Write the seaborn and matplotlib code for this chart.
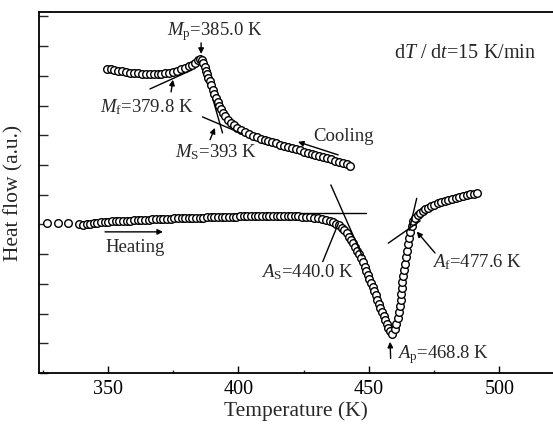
import matplotlib
matplotlib.use("Agg")
import matplotlib.pyplot as plt
import seaborn as sns
import pandas as pd

# ---------------- data ----------------
cool_T = [349.7, 351.0, 352.5, 354.0, 355.5, 357.0, 358.5, 360.0, 361.5, 363.0,
          364.5, 366.0, 367.5, 369.0, 370.5, 372.0, 373.5, 375.0, 376.5, 378.0,
          379.5, 381.0, 382.3, 383.5, 384.5, 385.3, 386.0, 386.5, 387.0, 387.5,
          388.0, 388.5, 389.0, 389.6, 390.2, 390.8, 391.4, 392.0, 392.7, 393.4,
          394.2, 395.0, 396.0, 397.0, 398.2, 399.5, 401.0, 402.5, 404.0, 405.5,
          407.0, 408.5, 410.0, 411.5, 413.0, 414.5, 416.0, 417.5, 419.0, 420.5,
          422.0, 423.5, 425.0, 426.5, 428.0, 429.5, 431.0, 432.5, 434.0, 435.5,
          437.0, 438.5, 440.0, 441.5, 442.8]
cool_H = [10.24, 10.22, 10.19, 10.17, 10.15, 10.13, 10.11, 10.10, 10.09, 10.08,
          10.07, 10.07, 10.07, 10.07, 10.08, 10.09, 10.11, 10.14, 10.18, 10.22,
          10.27, 10.32, 10.38, 10.45, 10.52, 10.57, 10.52, 10.42, 10.30, 10.18,
          10.06, 9.94, 9.82, 9.68, 9.54, 9.40, 9.26, 9.13, 9.00, 8.88,
          8.76, 8.64, 8.53, 8.43, 8.34, 8.25, 8.17, 8.10, 8.04, 7.99,
          7.94, 7.89, 7.85, 7.81, 7.77, 7.73, 7.69, 7.65, 7.61, 7.57,
          7.53, 7.49, 7.45, 7.41, 7.38, 7.35, 7.31, 7.27, 7.23, 7.19,
          7.15, 7.11, 7.07, 7.02, 6.97]

heat_T = [326.7, 330.9, 334.7, 338.8, 340.3, 341.8, 343.2, 344.6, 346.0, 347.4,
          348.8, 350.2, 351.6, 353.0, 354.4, 355.8, 357.2, 358.6, 360.0, 361.4,
          362.8, 364.2, 365.6, 367.0, 368.4, 369.8, 371.2, 372.6, 374.0, 375.4,
          376.8, 378.2, 379.6, 381.0, 382.4, 383.8, 385.2, 386.6, 388.0, 389.4,
          390.8, 392.2, 393.6, 395.0, 396.4, 397.8, 399.2, 400.6, 402.0, 403.4,
          404.8, 406.2, 407.6, 409.0, 410.4, 411.8, 413.2, 414.6, 416.0, 417.4,
          418.8, 420.2, 421.6, 423.0, 424.5, 426.0, 427.5, 429.0, 430.5, 432.0,
          433.5, 435.0, 436.3, 437.5, 438.5, 439.6, 440.6, 441.5, 442.3, 443.1,
          443.9, 444.7, 445.5, 446.3, 447.0, 447.7, 448.4, 449.0, 449.6, 450.2,
          450.8, 451.4, 452.0, 452.6, 453.2, 453.8, 454.4, 455.0, 455.6, 456.2,
          456.8, 457.4, 458.0, 458.7, 459.8, 460.5, 461.0, 461.4, 461.8, 462.1,
          462.4, 462.6, 462.8, 463.1, 463.5, 463.9, 464.2, 464.5, 464.9, 465.3,
          465.8, 466.3, 467.0, 467.8, 468.7, 469.6, 470.6, 471.6, 472.7, 473.8,
          475.0, 476.3, 477.6, 479.0, 480.4, 481.8, 483.2, 484.6, 486.0, 487.4,
          488.8, 490.2, 491.4]
heat_H = [5.06, 5.06, 5.05, 5.01, 4.99, 5.01, 5.03, 5.04, 5.05, 5.07,
          5.08, 5.09, 5.10, 5.10, 5.11, 5.12, 5.12, 5.13, 5.14, 5.14,
          5.15, 5.16, 5.16, 5.17, 5.17, 5.18, 5.18, 5.19, 5.19, 5.20,
          5.20, 5.21, 5.21, 5.22, 5.22, 5.22, 5.23, 5.23, 5.24, 5.24,
          5.24, 5.25, 5.25, 5.25, 5.26, 5.26, 5.26, 5.27, 5.27, 5.27,
          5.28, 5.28, 5.28, 5.28, 5.29, 5.29, 5.29, 5.29, 5.29, 5.29,
          5.29, 5.28, 5.28, 5.27, 5.26, 5.25, 5.24, 5.23, 5.21, 5.19,
          5.16, 5.12, 5.08, 5.03, 4.97, 4.89, 4.80, 4.70, 4.59, 4.48,
          4.37, 4.25, 4.12, 3.99, 3.86, 3.72, 3.58, 3.44, 3.30, 3.16,
          3.02, 2.88, 2.75, 2.61, 2.47, 2.33, 2.20, 2.06, 1.92, 1.78,
          1.64, 1.50, 1.40, 1.31, 1.47, 1.65, 1.85, 2.05, 2.25, 2.45,
          2.65, 2.85, 3.05, 3.25, 3.45, 3.67, 3.89, 4.11, 4.33, 4.55,
          4.76, 4.95, 5.10, 5.22, 5.31, 5.39, 5.46, 5.52, 5.57, 5.62,
          5.66, 5.71, 5.75, 5.79, 5.83, 5.87, 5.90, 5.94, 5.97, 6.00,
          6.02, 6.04, 6.06]

x_major = [350, 400, 450, 500]
x_minor = [325, 375, 425, 475]
y_major = list(range(0, 13))

# tangent construction lines (T pairs, H pairs)
tangents = [
    ([366.1, 382.2], [9.56, 10.20]),   # Mf
    ([386.2, 401.5], [8.62, 8.05]),    # Ms (shallow)
    ([390.3, 393.9], [9.19, 8.08]),    # Ms (steep)
    ([423.6, 448.9], [5.38, 5.38]),    # As (baseline)
    ([435.4, 447.4], [6.33, 3.94]),    # As (steep)
    ([468.3, 465.4], [5.88, 4.80]),    # Af (steep)
    ([457.4, 469.6], [4.37, 5.12]),    # Af (other)
]
pointer_lines = [
    ([432.3, 438.3], [3.75, 5.04]),    # As pointer
]
arrows = [  # (tail, tip)
    ((374.2, 9.46), (374.9, 9.87)),    # Mf
    ((385.7, 11.11), (385.7, 10.74)),  # Mp
    ((389.1, 7.85), (391.0, 8.25)),    # Ms
    ((438.2, 7.34), (422.8, 7.78)),    # Cooling
    ((348.9, 4.75), (371.1, 4.75)),    # Heating
    ((475.3, 4.04), (468.3, 4.76)),    # Af
    ((458.3, 0.49), (458.1, 1.05)),    # Ap
]

# ---------------- style ----------------
sns.set_theme(style="ticks")
plt.rcParams['font.family'] = ['Liberation Serif', 'DejaVu Serif']
plt.rcParams['mathtext.fontset'] = 'custom'
plt.rcParams['mathtext.rm'] = 'Liberation Serif'
plt.rcParams['mathtext.it'] = 'Liberation Serif:italic'
plt.rcParams['mathtext.bf'] = 'Liberation Serif:bold'

fig = plt.figure(figsize=(5.53, 4.24), dpi=100)
ax = fig.add_axes([39 / 553, 51 / 424, 1 - 39 / 553, 361 / 424])

cool = pd.DataFrame({"T": cool_T, "H": cool_H})
heat = pd.DataFrame({"T": heat_T, "H": heat_H})

for d in (heat, cool):
    sns.scatterplot(data=d, x="T", y="H", ax=ax, marker="o", s=30,
                    facecolor="white", edgecolor="black", linewidth=1.0,
                    legend=False, zorder=3)

for xs, ys in tangents + pointer_lines:
    ax.plot(xs, ys, color="black", lw=1.0, zorder=4)

for tail, tip in arrows:
    ax.annotate("", xy=tip, xytext=tail,
                arrowprops=dict(arrowstyle="-|>", color="black", lw=1.0,
                                mutation_scale=8, shrinkA=0, shrinkB=0),
                zorder=5)

fs = 13.5
ax.text(391.0, 11.48, r"$M_{\mathrm{p}}$=385.0 K", fontsize=fs, ha="center", va="center")
ax.text(365.0, 8.96, r"$M_{\mathrm{f}}$=379.8 K", fontsize=fs, ha="center", va="center")
ax.text(391.4, 7.44, r"$M_{\mathrm{S}}$=393 K", fontsize=fs, ha="center", va="center")
ax.text(440.1, 7.95, "Cooling", fontsize=fs, ha="center", va="center")
ax.text(360.4, 4.21, "Heating", fontsize=fs, ha="center", va="center")
ax.text(426.3, 3.40, r"$A_{\mathrm{S}}$=440.0 K", fontsize=fs, ha="center", va="center")
ax.text(474.2, 3.74, r"$A_{\mathrm{f}}$=477.6 K", fontsize=fs, ha="left", va="center")
ax.text(460.8, 0.61, r"$A_{\mathrm{p}}$=468.8 K", fontsize=fs, ha="left", va="center")
ax.text(486.8, 10.77, r"d$T$ / d$t$=15 K/min", fontsize=14.5, ha="center", va="center")

ax.set_xlim(323.6, 520.5)
ax.set_ylim(0, 12.15)
ax.set_xticks(x_major)
ax.set_xticks(x_minor, minor=True)
ax.set_yticks(y_major)
ax.set_yticklabels([])
ax.tick_params(axis="x", which="major", direction="in", length=5, width=1.0,
               labelsize=14.5, pad=5, colors="black")
ax.tick_params(axis="x", which="minor", direction="in", length=2.5, width=1.0)
ax.tick_params(axis="y", which="major", direction="in", length=6.5, width=1.0)
ax.set_xlabel("Temperature (K)", fontsize=15.5, labelpad=2)
ax.set_ylabel("Heat flow (a.u.)", fontsize=15.5, labelpad=8)

for side in ("left", "bottom", "top"):
    ax.spines[side].set_linewidth(1.3)
    ax.spines[side].set_color("black")
ax.spines["right"].set_visible(False)

fig.savefig("out.png", dpi=100)
